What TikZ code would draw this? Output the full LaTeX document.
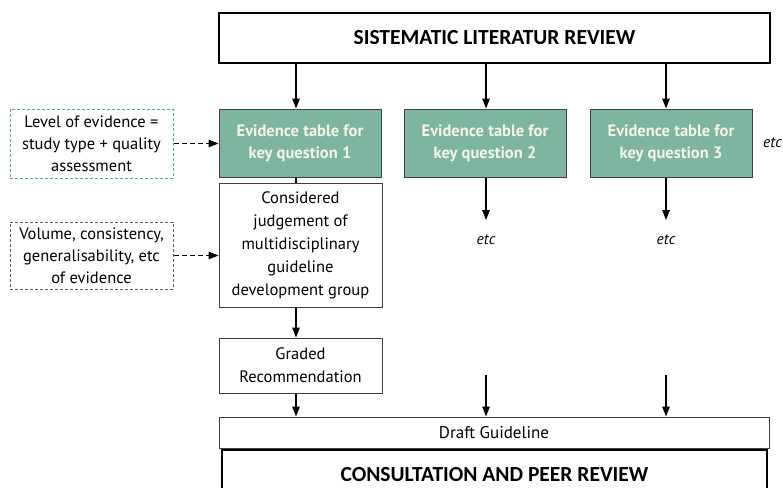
\documentclass[tikz,border=0pt]{standalone}
\usepackage{fontspec}
\setmainfont{PT Sans}
\newfontfamily\hdfont{Carlito}
\usetikzlibrary{arrows.meta}
\definecolor{evgreen}{RGB}{126,181,160}
\definecolor{dashgreen}{RGB}{100,170,140}
\definecolor{dashgray}{RGB}{95,95,95}
\definecolor{evtext}{RGB}{245,245,230}
\tikzset{
  arr/.style={line width=1.3pt,-{Triangle[length=10pt,width=7.5pt]}},
  darr/.style={line width=1.4pt,dash pattern=on 5pt off 3pt,-{Triangle[length=10pt,width=7.5pt]}},
  bigbox/.style={draw,line width=1.5pt,inner sep=0pt,font=\hdfont\bfseries\fontsize{21.5}{24}\selectfont},
  evbox/.style={draw=black!75,line width=1pt,fill=evgreen,minimum width=162pt,minimum height=68pt,inner sep=0pt,align=center,text=evtext,font=\bfseries\fontsize{16.5}{22}\selectfont},
  wbox/.style={draw=black!75,line width=1pt,minimum width=163pt,inner sep=0pt,align=center,font=\fontsize{16.5}{23}\selectfont},
  dbox/.style={line width=1pt,dash pattern=on 3pt off 2pt,minimum width=163pt,inner sep=0pt,align=center,font=\fontsize{16.5}{22}\selectfont},
  etcnode/.style={font=\itshape\fontsize{15.5}{17}\selectfont,inner sep=0pt}
}
\begin{document}
\begin{tikzpicture}[x=1pt,y=-1pt]
\useasboundingbox (0,0) rectangle (783,487);
\clip (0,0) rectangle (783,487);
\node[bigbox,minimum width=551pt,minimum height=50pt] (slr) at (494.5,38) {SISTEMATIC LITERATUR REVIEW};
\node[evbox] (q1) at (300,143) {Evidence table for\\key question 1};
\node[evbox] (q2) at (485,143) {Evidence table for\\key question 2};
\node[evbox] (q3) at (671,143) {Evidence table for\\key question 3};
\node[etcnode,anchor=west] (etc4) at (763,143) {etc};
\node[dbox,draw=dashgreen,minimum height=69pt] (lev) at (91.5,143.5) {Level of evidence =\\study type + quality\\assessment};
\node[dbox,draw=dashgray,minimum height=67pt] (vol) at (91.5,255.5) {Volume, consistency,\\generalisability, etc\\of evidence};
\node[wbox,minimum height=124pt] (cons) at (300.5,245) {Considered\\judgement of\\multidisciplinary\\guideline\\development group};
\node[wbox,minimum height=55pt] (grad) at (300.5,365.5) {Graded\\Recommendation};
\node[wbox,minimum width=550pt,minimum height=31pt,font=\fontsize{17}{19}\selectfont] (draft) at (494,432.5) {Draft Guideline};
\node[bigbox,minimum width=545pt,minimum height=50pt] (cpr) at (494.5,475) {CONSULTATION AND PEER REVIEW};
\node[etcnode] (etc2) at (486,240) {etc};
\node[etcnode] (etc3) at (666,240) {etc};
\coordinate (c1) at (296,0);
\coordinate (c2) at (486,0);
\coordinate (c3) at (666,0);
\coordinate (t2) at (486,220);
\coordinate (t3) at (666,220);
\coordinate (s2) at (486,375);
\coordinate (s3) at (666,375);
\draw[arr] (slr.south -| c1) -- (q1.north -| c1);
\draw[arr] (slr.south -| c2) -- (q2.north -| c2);
\draw[arr] (slr.south -| c3) -- (q3.north -| c3);
\draw[line width=1.3pt] (q1.south -| c1) -- (cons.north -| c1);
\draw[arr] (q2.south -| t2) -- (t2);
\draw[arr] (q3.south -| t3) -- (t3);
\draw[darr] (lev.east) -- (q1.west |- lev.east);
\draw[darr] (vol.east) -- (cons.west |- vol.east);
\draw[arr] (cons.south -| c1) -- (grad.north -| c1);
\draw[arr] (grad.south -| c1) -- (draft.north -| c1);
\draw[arr] (s2) -- (draft.north -| s2);
\draw[arr] (s3) -- (draft.north -| s3);
\end{tikzpicture}
\end{document}
